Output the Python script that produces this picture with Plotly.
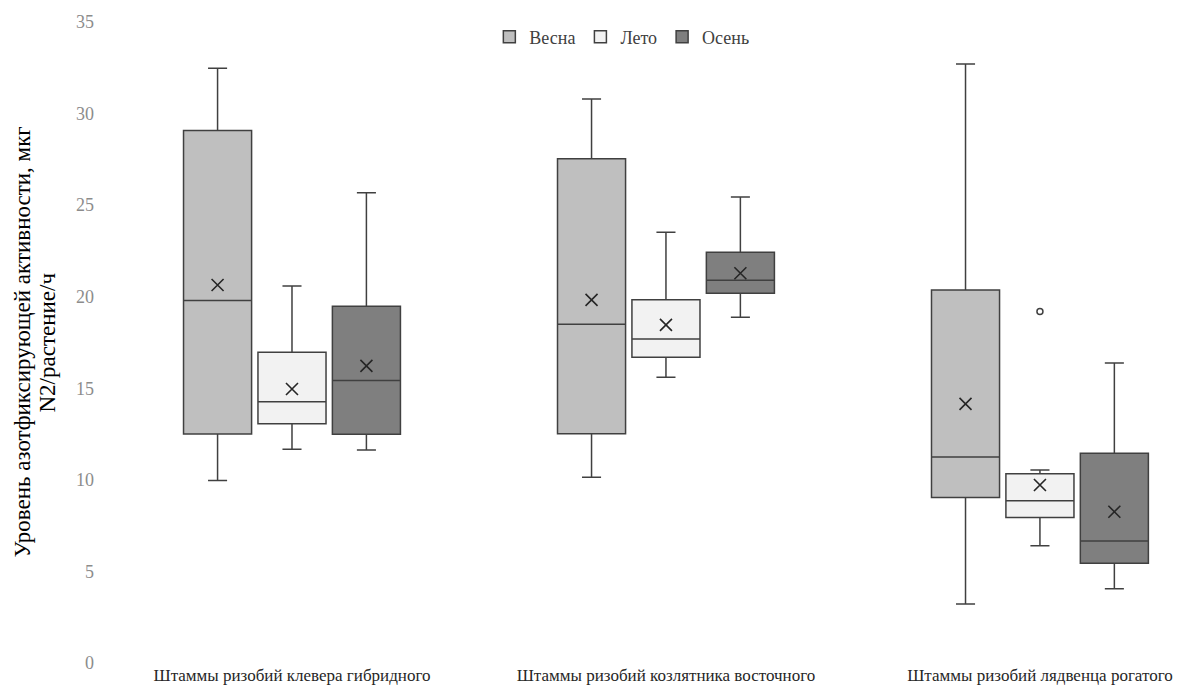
import plotly.graph_objects as go

categories = ["Штаммы ризобий клевера гибридного",
              "Штаммы ризобий козлятника восточного",
              "Штаммы ризобий лядвенца рогатого"]
seasons = ["Весна", "Лето", "Осень"]

lowerfence = {"Весна": [9.96, 10.14, 3.22], "Лето": [11.67, 15.60, 6.40], "Осень": [11.63, 18.88, 4.06]}
q1 = {"Весна": [12.51, 12.52, 9.03], "Лето": [13.07, 16.70, 7.94], "Осень": [12.49, 20.19, 5.45]}
median = {"Весна": [19.79, 18.50, 11.25], "Лето": [14.27, 17.69, 8.86], "Осень": [15.42, 20.90, 6.66]}
q3 = {"Весна": [29.07, 27.53, 20.37], "Лето": [16.97, 19.84, 10.34], "Осень": [19.48, 22.43, 11.45]}
upperfence = {"Весна": [32.48, 30.80, 32.70], "Лето": [20.59, 23.52, 10.54], "Осень": [25.67, 25.45, 16.38]}
mean = {"Весна": [20.64, 19.83, 14.15], "Лето": [14.96, 18.46, 9.72], "Осень": [16.22, 21.28, 8.26]}
outlier_cat = [2]
outlier_season = ["Лето"]
outlier_val = [19.19]

ytick_vals = [0, 5, 10, 15, 20, 25, 30, 35]
ytitle_lines = ["Уровень азотфиксирующей активности, мкг", "N2/растение/ч"]

fills = {"Весна": "#bfbfbf", "Лето": "#f2f2f2", "Осень": "#7f7f7f"}
offsets = {"Весна": -0.199, "Лето": 0.0, "Осень": 0.199}
line_col = "#404040"
FONT = "Liberation Serif"

fig = go.Figure()
idx = list(range(len(categories)))
for s in seasons:
    xs = [i + offsets[s] for i in idx]
    fig.add_trace(go.Box(
        name=s, x=xs, q1=q1[s], median=median[s], q3=q3[s],
        lowerfence=lowerfence[s], upperfence=upperfence[s],
        width=0.182, whiskerwidth=0.28, fillcolor=fills[s],
        line=dict(color=line_col, width=1.5), boxpoints=False,
        hoverinfo="skip", showlegend=True,
    ))
    fig.add_trace(go.Scatter(
        x=xs, y=mean[s], mode="markers", showlegend=False, hoverinfo="skip",
        marker=dict(symbol="x-thin-open", size=12, color="#262626",
                    line=dict(color="#262626", width=1.6)),
    ))

fig.add_trace(go.Scatter(
    x=[c + offsets[s] for c, s in zip(outlier_cat, outlier_season)], y=outlier_val,
    mode="markers", showlegend=False, hoverinfo="skip",
    marker=dict(symbol="circle-open", size=6, color=line_col, line=dict(color=line_col, width=1.5)),
))

for k, (txt, shift) in enumerate(zip(ytitle_lines, [-83, -58])):
    fig.add_annotation(text=txt, xref="paper", yref="paper", x=0, y=0.5,
                       xanchor="center", yanchor="middle", xshift=shift, textangle=-90,
                       showarrow=False, font=dict(family=FONT, size=23, color="#000000"))

fig.update_layout(
    width=1192, height=689,
    margin=dict(l=97, r=0, t=14, b=34),
    paper_bgcolor="white", plot_bgcolor="white",
    boxmode="overlay",
    font=dict(family=FONT, color="#404040"),
    legend=dict(orientation="h", x=0.472, xanchor="center", y=0.9766, yanchor="middle",
                itemwidth=30,
                font=dict(family=FONT, size=18, color="#404040"), bgcolor="rgba(0,0,0,0)"),
    xaxis=dict(range=[-0.5, 2.428], tickvals=idx, ticktext=categories,
               showgrid=False, zeroline=False, showline=False, ticks="",
               tickfont=dict(family=FONT, size=17, color="#262626")),
    yaxis=dict(range=[0, 35], tickvals=ytick_vals, showgrid=False, zeroline=False,
               showline=False, ticks="", ticklabelstandoff=10,
               tickfont=dict(family=FONT, size=18, color="#8c8c8c")),
)

fig.write_html("out.html")
